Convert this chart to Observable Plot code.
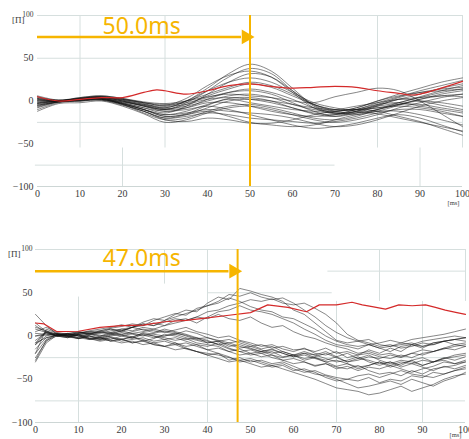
<!DOCTYPE html>
<html><head><meta charset="utf-8">
<script src="https://cdn.jsdelivr.net/npm/d3@7"></script>
<script src="https://cdn.jsdelivr.net/npm/@observablehq/plot@0.6"></script>
<style>
body{margin:0;background:#fff;overflow:hidden}
svg{display:block}
svg [aria-label*="tick label"] text, svg text.serif, svg .serif text{font-family:"Liberation Serif","DejaVu Serif",serif !important;}
svg .ms text{font-family:"Noto Sans",sans-serif !important;}
</style>
</head><body><div id="c"></div><script>
// ---------- shared ----------
const xTicks = [0,10,20,30,40,50,60,70,80,90,100];
const yTicks = [-100,-50,0,50];
const yTopLabel = "100";
const yUnit = "[Π]";
const xUnit = "[ms]";

// ---------- top panel ----------
const xTop = [0,5,10,15,20,25,30,35,40,45,50,55,60,65,70,75,80,85,90,95,100];
const topLines = [
  [-2,0,3,5,2,-3,-8,0,15,32,43,35,15,-5,-12,-8,0,8,15,22,27],
  [3,1,2,4,0,-5,-10,-2,12,28,38,32,12,-6,-14,-10,-2,5,12,18,24],
  [0,0,4,6,3,-2,-5,3,18,30,35,28,10,-8,-15,-12,-5,2,8,15,20],
  [-5,-1,1,3,-2,-8,-14,-6,8,22,32,28,12,-4,-10,-10,-6,-2,5,12,18],
  [2,0,3,5,1,-4,-8,0,12,22,27,22,10,-2,-8,-12,-15,-20,-25,-30,-35],
  [-8,-1,2,4,0,-6,-12,-8,2,10,14,10,2,-8,-14,-16,-12,-5,2,6,8],
  [5,0,3,5,2,-2,-4,-2,4,10,12,8,-2,-12,-18,-14,-6,2,0,-5,-10],
  [-3,0,2,3,-1,-5,-9,-6,0,6,8,4,-4,-10,-12,-8,0,6,10,12,14],
  [0,0,1,2,-3,-10,-18,-15,-5,3,4,0,-8,-15,-18,-12,-4,4,10,14,16],
  [-10,-2,0,2,-4,-12,-20,-16,-8,0,2,0,-4,-8,-10,-6,-2,2,4,6,5],
  [4,1,4,6,3,-1,-3,0,5,8,6,4,0,-2,5,10,15,12,0,-15,-30],
  [-5,-1,1,2,-4,-14,-22,-20,-12,-6,-4,-8,-14,-20,-22,-18,-10,-2,4,10,14],
  [-12,-3,-2,0,-6,-15,-25,-22,-14,-8,-6,-10,-16,-22,-25,-22,-16,-8,-2,4,8],
  [2,0,2,2,-3,-10,-16,-14,-10,-12,-14,-16,-20,-26,-30,-28,-22,-14,-6,0,4],
  [-6,-1,0,1,-5,-12,-20,-18,-14,-16,-20,-22,-24,-26,-24,-20,-14,-10,-10,-14,-18],
  [0,0,2,3,-2,-8,-12,-10,-6,-10,-16,-22,-28,-32,-30,-26,-20,-16,-20,-28,-36],
  [-3,0,1,2,-3,-10,-18,-16,-12,-18,-25,-28,-30,-28,-22,-16,-12,-12,-16,-22,-28],
  [3,0,2,3,-1,-6,-10,-8,-2,-2,-6,-12,-16,-18,-16,-10,-4,-2,-6,-10,-14],
  [-4,-1,0,1,-4,-12,-22,-24,-20,-22,-26,-26,-22,-16,-12,-10,-12,-18,-24,-32,-40],
  [1,0,2,4,0,-6,-10,-4,6,14,20,16,6,-4,-10,-10,-8,-6,-8,-12,-18],
  [-2,0,3,4,1,-4,-6,0,8,16,22,18,8,-4,-12,-14,-10,-4,0,-2,-6],
  [6,1,3,5,2,-2,-6,-4,2,4,2,-2,-8,-14,-16,-12,-8,-4,-4,-8,-12],
  [-7,-1,1,3,-3,-10,-16,-12,-4,2,-2,-6,-10,-12,-14,-14,-10,-4,2,8,12]
];
const xRedTop = [0,5,10,15,20,25,28,30,35,40,45,50,55,60,65,70,75,80,85,88,90,95,100];
const yRedTop = [5,0,2,4,4,10,13,12,8,12,18,20,17,15,16,17,16,12,9,7,8,15,23];
const markerTop = 50;
const labelTop = "50.0ms";
const gridVTop = [
  {x:10,y1:-55,y2:100},{x:30,y1:-55,y2:100},{x:80,y1:-55,y2:100},{x:100,y1:-55,y2:100},
  {x:20,y1:-100,y2:-55},{x:90,y1:-100,y2:-55}
];
const gridHTop = [
  {y:100,x1:0,x2:100},{y:50,x1:0,x2:100},{y:-25,x1:0,x2:100},{y:-75,x1:-0.5,x2:70}
];

// ---------- bottom panel ----------
const xBot = [0,2.5,5,7.5,10,12.5,15,17.5,20,22.5,25,27.5,30,32.5,35,37.5,40,42.5,45,47.5,50,
  52.5,55,57.5,60,62.5,65,67.5,70,72.5,75,77.5,80,82.5,85,87.5,90,92.5,95,97.5,100];
const botLines = [
  [-10,5,2,0,3,6,8,10,13,10,16,20,18,25,30,28,38,45,42,55,52,48,45,40,30,25,15,5,-5,-8,-6,-10,-8,-5,-8,-4,-2,0,2,5,8],
  [-20,8,3,1,4,5,6,9,11,14,12,18,22,26,24,32,35,40,48,46,50,45,42,44,38,30,22,12,4,-2,-6,-4,-10,-12,-8,-10,-6,-4,-2,0,-2],
  [5,10,4,2,2,4,3,6,8,10,14,12,16,20,18,22,28,30,35,38,42,40,43,38,36,38,32,25,15,2,-5,-8,-12,-10,-14,-12,-8,-10,-6,-4,-6],
  [25,12,2,3,5,2,6,8,5,10,12,15,12,18,20,15,22,28,30,35,30,28,25,20,15,8,2,-5,-10,-12,-15,-10,-14,-18,-12,-10,-14,-8,-6,-10,-8],
  [-5,4,1,0,2,3,5,4,8,6,10,8,12,15,18,22,20,25,20,18,22,15,10,12,5,0,-3,-8,-12,-15,-20,-18,-22,-20,-24,-20,-16,-18,-14,-10,-12],
  [-8,6,2,1,3,5,4,8,6,10,14,12,18,22,26,30,35,38,44,40,34,30,28,22,20,14,8,0,-6,-10,-12,-10,-14,-12,-10,-8,-12,-10,-6,-4,-2],
  [10,6,0,2,-2,3,0,4,2,5,8,6,4,7,10,5,2,-2,0,-5,-8,-12,-10,-15,-18,-14,-20,-22,-18,-25,-22,-20,-24,-26,-22,-25,-20,-18,-15,-12,-10],
  [-15,-2,1,0,-3,1,4,2,6,3,5,8,5,2,6,3,-2,-5,-8,-6,-10,-15,-12,-18,-22,-20,-25,-28,-24,-30,-26,-28,-32,-30,-34,-28,-25,-30,-26,-22,-20],
  [0,3,0,-2,2,0,-3,1,4,2,0,3,6,4,0,-4,-6,-10,-8,-12,-15,-18,-16,-20,-24,-20,-22,-18,-24,-20,-26,-22,-28,-32,-28,-30,-34,-30,-28,-32,-30],
  [-25,-6,2,0,1,-2,-4,0,2,-1,3,0,-2,-5,-3,-8,-10,-12,-18,-15,-20,-18,-22,-25,-22,-28,-25,-30,-35,-32,-38,-34,-30,-36,-32,-28,-34,-30,-25,-28,-24],
  [8,4,1,3,0,-4,-2,2,0,3,1,-2,0,2,-2,-5,-8,-6,-10,-14,-12,-16,-20,-18,-22,-26,-24,-20,-25,-30,-28,-24,-26,-22,-25,-20,-22,-18,-14,-16,-12],
  [-10,0,3,1,4,2,5,3,6,10,7,4,8,5,2,-2,-5,-10,-15,-18,-22,-20,-25,-28,-32,-30,-35,-32,-38,-35,-40,-36,-38,-34,-30,-32,-28,-30,-26,-24,-22],
  [15,5,0,-1,2,-3,-6,-4,0,-3,2,0,-4,-2,-6,-10,-12,-8,-14,-18,-16,-20,-18,-24,-22,-18,-22,-26,-30,-28,-24,-30,-34,-30,-36,-32,-36,-40,-35,-38,-34],
  [-30,-8,1,3,0,2,-1,3,1,-2,4,2,0,3,1,-3,-2,-6,-4,-8,-12,-10,-14,-12,-16,-15,-18,-14,-20,-18,-22,-16,-20,-14,-18,-10,-12,-8,-6,-4,-2],
  [3,2,0,2,5,3,1,-1,-4,-1,-6,-3,2,0,-4,-2,-8,-6,-12,-10,-14,-18,-15,-20,-24,-22,-26,-30,-28,-32,-36,-34,-30,-34,-38,-42,-38,-35,-30,-32,-28],
  [-20,-4,2,0,-2,-4,-2,-6,-3,-8,-5,-10,-12,-8,-14,-18,-20,-22,-25,-28,-26,-30,-34,-32,-38,-42,-40,-45,-48,-50,-52,-48,-54,-50,-52,-46,-48,-42,-44,-40,-38],
  [0,1,3,0,-3,0,-4,-2,-6,-4,-2,-6,-4,-8,-12,-10,-16,-20,-24,-30,-28,-32,-36,-34,-40,-38,-42,-48,-52,-50,-46,-44,-48,-44,-40,-44,-46,-48,-44,-40,-36],
  [-28,-5,0,2,0,-3,-1,-5,-8,-6,-10,-8,-12,-10,-15,-18,-22,-20,-28,-25,-30,-28,-32,-30,-35,-40,-44,-46,-50,-55,-60,-58,-55,-52,-56,-50,-54,-58,-52,-48,-42],
  [12,4,0,-2,1,-3,-5,-2,-4,-8,-6,-10,-12,-16,-14,-18,-22,-26,-30,-28,-32,-36,-34,-38,-42,-46,-50,-55,-60,-62,-64,-68,-66,-62,-58,-64,-60,-56,-50,-46,-44],
  [-8,-2,1,-1,-3,0,-2,-6,-4,-1,-4,-8,-6,-10,-8,-12,-16,-14,-18,-22,-20,-24,-22,-28,-26,-30,-34,-32,-36,-38,-34,-40,-44,-42,-46,-40,-44,-38,-36,-34,-30]
];
const xRedBot = [0,2,5,10,15,20,25,30,35,40,45,50,54,58.7,63,66,70,73.6,76,78.3,81.4,84.5,87.6,90.7,93,95.3,98,100];
const yRedBot = [15,14,5,5.5,10,12,12.6,16.5,18,21,24,27,36,33,28,36,36,39,36,34,31,36,35,36,33,30,27,25];
const markerBot = 47;
const labelBot = "47.0ms";
const gridVBot = [
  {x:10,y1:-100,y2:45},{x:30,y1:60,y2:100},{x:40,y1:-100,y2:100},
  {x:70,y1:-100,y2:40},{x:80,y1:40,y2:100},{x:90,y1:-100,y2:40},{x:100,y1:40,y2:100}
];
const gridHBot = [
  {y:100,x1:0,x2:100},{y:-25,x1:0,x2:100},{y:-75,x1:0,x2:100},
  {y:50,x1:40,x2:69},{y:75,x1:68,x2:100}
];

const ORANGE = "#f6b500";
const GRID = "#d6dfde";
const SERIF = "Liberation Serif, DejaVu Serif, serif";

function long(series, xs){
  return series.flatMap((ys,i)=> ys.map((y,j)=>({s:i, x:xs[j], y})));
}

function panel(o){
  const arrowY = 75;
  return Plot.plot({
    width:469, height:o.height,
    marginTop:o.mt, marginBottom:o.mb, marginLeft:o.ml, marginRight:o.mr,
    x:{domain:[0,100], ticks:xTicks, tickSize:0, tickPadding:3, label:null},
    y:{domain:[-100,100], ticks:yTicks, tickSize:0, tickPadding:o.ypad, label:null},
    style:{fontFamily:SERIF, fontSize:"10px", color:"#3a3a3a", background:"#fff"},
    marks:[
      Plot.ruleX(o.gridV, {x:"x", y1:"y1", y2:"y2", stroke:GRID, strokeWidth:1}),
      Plot.ruleY(o.gridH, {y:"y", x1:"x1", x2:"x2", stroke:GRID, strokeWidth:1}),
      Plot.ruleY([-100], {stroke:"#cdd6d5", strokeWidth:1}),
      Plot.line(long(o.lines, o.xs), {x:"x", y:"y", z:"s", stroke:"#111", strokeWidth:0.6, strokeOpacity:0.85, curve:o.curve}),
      Plot.line(o.redX.map((x,i)=>({x, y:o.redY[i]})), {x:"x", y:"y", stroke:"#d42a2a", strokeWidth:1.2, curve:o.curve}),
      Plot.ruleX([o.marker], {stroke:ORANGE, strokeWidth:2}),
      Plot.ruleY([{y:arrowY, x1:0, x2:o.marker - 2}], {y:"y", x1:"x1", x2:"x2", stroke:ORANGE, strokeWidth:2.5}),
      Plot.dot([{x:o.marker, y:arrowY}], {x:"x", y:"y", symbol:"triangle", r:5.5, rotate:90, fill:ORANGE, stroke:"none", dx:-4}),
      Plot.text([o.label], {x:o.labelX, y:o.labelY, text:d=>d, fill:ORANGE, fontSize:23, fontFamily:"Noto Sans", textAnchor:"middle", className:"ms"}),
      Plot.text([yTopLabel], {x:0, y:100, text:d=>d, dx:o.hundredDx, dy:-1, textAnchor:"end", fontSize:7.5, fill:"#3a3a3a", fontFamily:SERIF, className:"serif"}),
      Plot.text([yUnit], {x:0, y:100, text:d=>d, dx:o.unitDx, dy:5, textAnchor:"end", fontSize:9, fill:"#3a3a3a", fontFamily:SERIF, className:"serif"}),
      Plot.text([xUnit], {x:100, y:-100, text:d=>d, dx:o.msDx, dy:o.msDy, textAnchor:"middle", fontSize:6.5, fill:"#3a3a3a", fontFamily:SERIF, className:"serif"})
    ]
  });
}

const c = document.getElementById("c");
c.append(panel({
  height:220, mt:15, mb:34, ml:37, mr:7, ypad:4,
  lines:topLines, xs:xTop, curve:"catmull-rom",
  redX:xRedTop, redY:yRedTop, marker:markerTop, label:labelTop,
  labelX:24.5, labelY:87.5, gridV:gridVTop, gridH:gridHTop,
  hundredDx:-4, unitDx:-13, msDx:-9, msDy:16
}));
c.append(panel({
  height:219, mt:29, mb:17, ml:35, mr:4, ypad:3,
  lines:botLines, xs:xBot, curve:"linear",
  redX:xRedBot, redY:yRedBot, marker:markerBot, label:labelBot,
  labelX:24.7, labelY:89.5, gridV:gridVBot, gridH:gridHBot,
  hundredDx:-3, unitDx:-15, msDx:-10, msDy:12.5
}));
</script></body></html>
